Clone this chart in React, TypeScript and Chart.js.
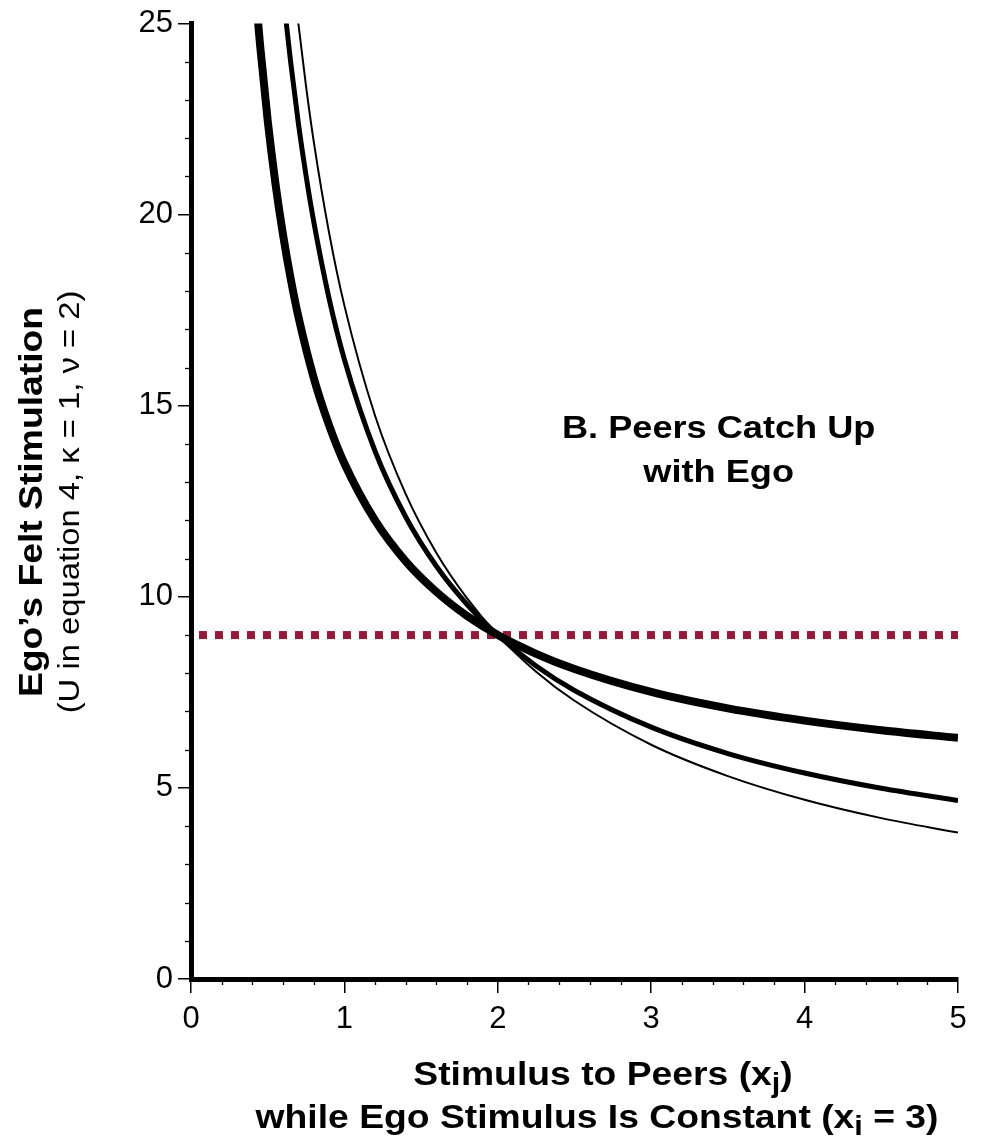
import React, { useEffect, useRef } from 'react';
import { Chart, registerables } from 'chart.js';

Chart.register(...registerables);

const FONT = '"Liberation Sans", Arial, Helvetica, sans-serif';

// Thickest curve
const thickX = [0.43, 0.45, 0.5, 0.55, 0.6, 0.65, 0.7, 0.8, 0.9, 1.0, 1.2, 1.4, 1.6, 1.8, 2.0, 2.25, 2.5, 3.0, 3.5, 4.0, 4.5, 5.0];
const thickY = [25.38, 24.45, 22.46, 20.83, 19.47, 18.32, 17.33, 15.73, 14.49, 13.49, 12.0, 10.93, 10.13, 9.5, 9.0, 8.51, 8.11, 7.51, 7.08, 6.76, 6.51, 6.31];

// Medium curve
const medX = [0.6, 0.62, 0.65, 0.7, 0.75, 0.8, 0.9, 1.0, 1.2, 1.4, 1.6, 1.8, 2.0, 2.25, 2.5, 3.0, 3.5, 4.0, 4.5, 5.0];
const medY = [25.83, 25.05, 23.98, 22.39, 21.02, 19.82, 17.81, 16.21, 13.81, 12.09, 10.8, 9.8, 9.0, 8.19, 7.55, 6.59, 5.9, 5.39, 4.99, 4.67];

// Thin curve
const thinX = [0.68, 0.7, 0.75, 0.8, 0.9, 1.0, 1.2, 1.4, 1.6, 1.8, 2.0, 2.25, 2.5, 3.0, 3.5, 4.0, 4.5, 5.0];
const thinY = [25.72, 25.0, 23.36, 21.92, 19.53, 17.62, 14.74, 12.69, 11.15, 9.96, 9.0, 8.04, 7.28, 6.13, 5.31, 4.69, 4.21, 3.83];

// Dotted reference line (constant felt stimulation)
const refX = [0, 5];
const refY = [9, 9];

const xTickValues = [0, 1, 2, 3, 4, 5];
const yTickValues = [0, 5, 10, 15, 20, 25];
const xMinorValues = [0.2, 0.4, 0.6, 0.8, 1.2, 1.4, 1.6, 1.8, 2.2, 2.4, 2.6, 2.8, 3.2, 3.4, 3.6, 3.8, 4.2, 4.4, 4.6, 4.8];
const yMinorValues = [1, 2, 3, 4, 6, 7, 8, 9, 11, 12, 13, 14, 16, 17, 18, 19, 21, 22, 23, 24];

const annotationLines = ['B. Peers Catch Up', 'with Ego'];
const annotationPos = { x: 3.44, y: 14.15 };

type Part = { text: string; font: string; dy?: number };

const STRETCH = 1.13;

function partsWidth(ctx: CanvasRenderingContext2D, parts: Part[]) {
  let w = 0;
  for (const p of parts) {
    ctx.font = p.font;
    w += ctx.measureText(p.text).width;
  }
  return w;
}

function drawParts(ctx: CanvasRenderingContext2D, parts: Part[]) {
  const w = partsWidth(ctx, parts);
  let x = -w / 2;
  for (const p of parts) {
    ctx.font = p.font;
    ctx.fillText(p.text, x, p.dy || 0);
    x += ctx.measureText(p.text).width;
  }
}

const customPlugin = {
  id: 'customText',
  afterDraw(chart: any) {
    const ctx: CanvasRenderingContext2D = chart.ctx;
    const xs = chart.scales.x;
    const ys = chart.scales.y;
    const area = chart.chartArea;
    ctx.save();
    // minor ticks
    ctx.strokeStyle = '#000';
    ctx.lineWidth = 1.3;
    for (const v of yMinorValues) {
      const py = Math.round(ys.getPixelForValue(v)) + 0.5;
      ctx.beginPath();
      ctx.moveTo(area.left - 6, py);
      ctx.lineTo(area.left, py);
      ctx.stroke();
    }
    for (const v of xMinorValues) {
      const px = Math.round(xs.getPixelForValue(v)) + 0.5;
      ctx.beginPath();
      ctx.moveTo(px, area.bottom);
      ctx.lineTo(px, area.bottom + 6);
      ctx.stroke();
    }

    ctx.fillStyle = '#000';
    ctx.textBaseline = 'alphabetic';
    ctx.textAlign = 'left';
    const bold = `bold 33px ${FONT}`;
    const boldSub = `bold 27px ${FONT}`;
    const reg = `29px ${FONT}`;

    // annotation
    const ax = xs.getPixelForValue(annotationPos.x);
    const ay = ys.getPixelForValue(annotationPos.y);
    annotationLines.forEach((line, i) => {
      ctx.save();
      ctx.translate(ax, ay + i * 44);
      ctx.scale(STRETCH, 1);
      drawParts(ctx, [{ text: line, font: `bold 32px ${FONT}` }]);
      ctx.restore();
    });

    // x axis title
    ctx.save();
    ctx.translate(603, 1085);
    ctx.scale(STRETCH, 1);
    drawParts(ctx, [
      { text: 'Stimulus to Peers (x', font: bold },
      { text: 'j', font: boldSub, dy: 7 },
      { text: ')', font: bold },
    ]);
    ctx.restore();
    ctx.save();
    ctx.translate(597, 1128);
    ctx.scale(STRETCH, 1);
    drawParts(ctx, [
      { text: 'while Ego Stimulus Is Constant (x', font: bold },
      { text: 'i', font: boldSub, dy: 7 },
      { text: ' = 3)', font: bold },
    ]);
    ctx.restore();

    // y axis title
    ctx.save();
    ctx.translate(42, 502);
    ctx.rotate(-Math.PI / 2);
    ctx.scale(STRETCH, 1);
    drawParts(ctx, [{ text: 'Ego\u2019s Felt Stimulation', font: bold }]);
    ctx.restore();
    ctx.save();
    ctx.translate(79, 502);
    ctx.rotate(-Math.PI / 2);
    ctx.scale(STRETCH, 1);
    drawParts(ctx, [{ text: '(U in equation 4, \u03BA = 1, \u03BD = 2)', font: reg }]);
    ctx.restore();

    ctx.restore();
  },
};

function pts(xs: number[], ys: number[]) {
  return xs.map((x, i) => ({ x, y: ys[i] }));
}

export default function App() {
  const ref = useRef<HTMLCanvasElement>(null);
  useEffect(() => {
    document.body.style.margin = '0';
    const canvas = ref.current!;
    const tickFont = { family: FONT, size: 31 };
    const chart = new Chart(canvas, {
      type: 'line',
      data: {
        datasets: [
          {
            data: pts(refX, refY),
            borderColor: '#941B38',
            borderWidth: 8,
            borderDash: [8, 8],
            borderDashOffset: 8,
            borderCapStyle: 'butt',
            pointRadius: 0,
            fill: false,
            order: 10,
          },
          {
            data: pts(thinX, thinY),
            borderColor: '#000',
            borderWidth: 2,
            pointRadius: 0,
            cubicInterpolationMode: 'monotone',
            fill: false,
            order: 3,
          },
          {
            data: pts(medX, medY),
            borderColor: '#000',
            borderWidth: 5,
            pointRadius: 0,
            cubicInterpolationMode: 'monotone',
            fill: false,
            order: 2,
          },
          {
            data: pts(thickX, thickY),
            borderColor: '#000',
            borderWidth: 8,
            pointRadius: 0,
            cubicInterpolationMode: 'monotone',
            fill: false,
            order: 1,
          },
        ],
      } as any,
      options: {
        responsive: false,
        animation: false,
        devicePixelRatio: 1,
        layout: { padding: { top: 20, right: 28, left: 0, bottom: 0 } },
        plugins: { legend: { display: false }, tooltip: { enabled: false } },
        scales: {
          x: {
            type: 'linear',
            min: 0,
            max: 5,
            afterBuildTicks: (s: any) => {
              s.ticks = xTickValues.map((v) => ({ value: v }));
            },
            afterFit: (s: any) => {
              s.height = 163;
            },
            ticks: {
              font: tickFont,
              color: '#000',
              padding: 8,
              maxRotation: 0,
              autoSkip: false,
              callback: (v: any) => String(v),
            },
            grid: { drawOnChartArea: false, drawTicks: true, tickLength: 14, color: '#000', lineWidth: 1.5 },
            border: { display: true, width: 5, color: '#000' },
          },
          y: {
            type: 'linear',
            min: 0,
            max: 25,
            afterBuildTicks: (s: any) => {
              s.ticks = yTickValues.map((v) => ({ value: v }));
            },
            afterFit: (s: any) => {
              s.width = 191;
            },
            ticks: {
              font: tickFont,
              color: '#000',
              padding: 5,
              autoSkip: false,
              callback: (v: any) => String(v),
            },
            grid: { drawOnChartArea: false, drawTicks: true, tickLength: 13, color: '#000', lineWidth: 1.5 },
            border: { display: true, width: 5, color: '#000' },
          },
        },
      } as any,
      plugins: [customPlugin],
    });
    return () => chart.destroy();
  }, []);
  return (
    <div style={{ width: 986, height: 1142, position: 'relative' }}>
      <canvas ref={ref} width={986} height={1142} style={{ display: 'block', width: 986, height: 1142 }} />
    </div>
  );
}
